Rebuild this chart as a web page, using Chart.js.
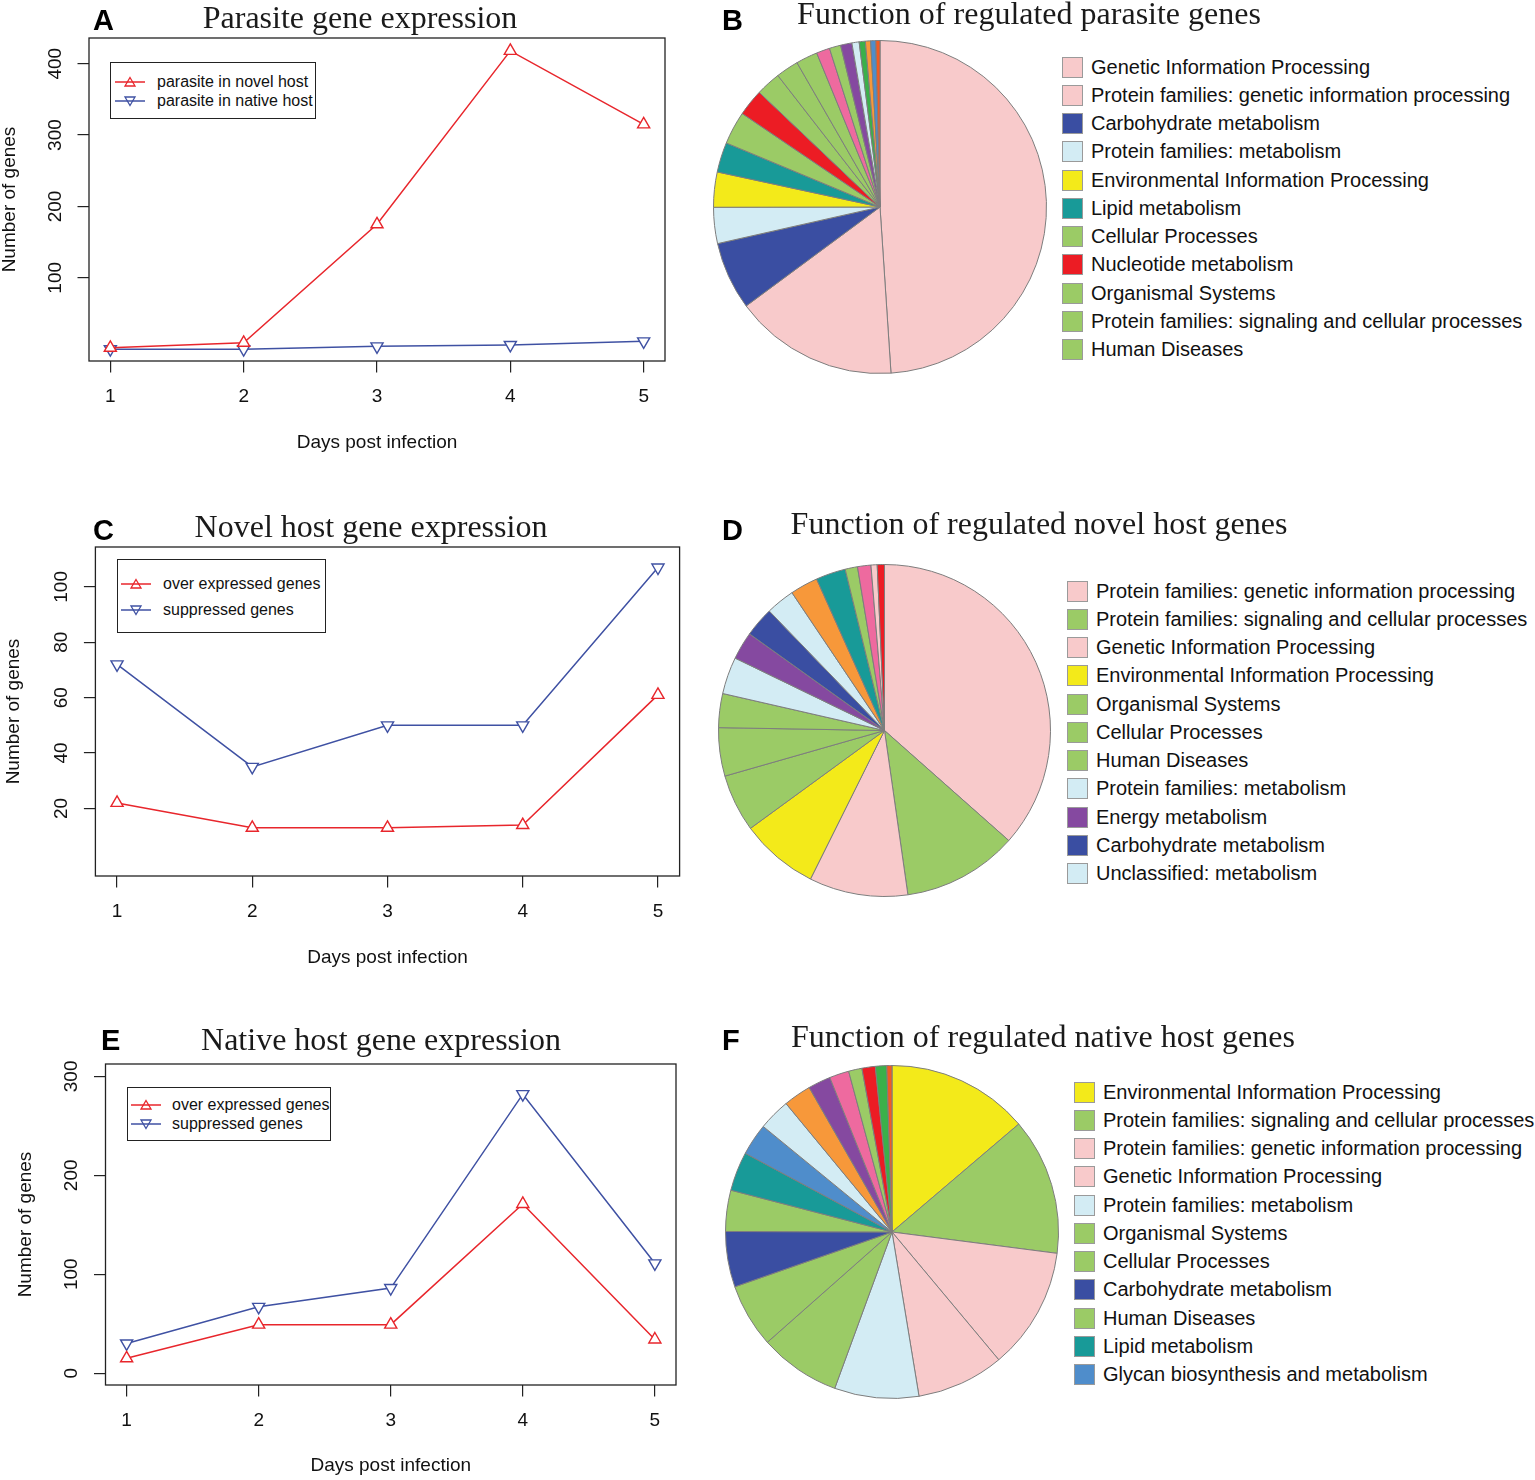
<!DOCTYPE html>
<html><head><meta charset="utf-8">
<script src="https://cdn.jsdelivr.net/npm/chart.js@4.4.1/dist/chart.umd.min.js"></script>
<style>
html,body{margin:0;padding:0;background:#fff;}
#page{position:relative;width:1535px;height:1480px;overflow:hidden;background:#fff;font-family:"Liberation Sans",Arial,sans-serif;color:#111;}
canvas{position:absolute;}
.ttl{position:absolute;width:700px;text-align:center;font-family:"Liberation Serif","Times New Roman",serif;font-size:32px;line-height:36px;color:#1a1a1a;white-space:nowrap;}
.let{position:absolute;font-weight:bold;font-size:29px;line-height:29px;color:#000;}
.lgbox{position:absolute;border:1.3px solid #222;box-sizing:border-box;background:#fff;}
.lgrow{position:absolute;display:flex;align-items:center;font-size:16px;white-space:nowrap;height:20px;color:#111;}
.lgrow svg{flex:none;}
.prow{position:absolute;display:flex;align-items:center;font-size:20px;white-space:nowrap;height:28px;color:#111;}
.sw{width:21px;height:21px;box-sizing:border-box;border:1px solid #9a9a9a;margin-right:8px;flex:none;}
</style></head><body><div id="page"></div>
<script>
// ---------------- data ----------------
const days = [1, 2, 3, 4, 5];
const dayTicks = [1, 2, 3, 4, 5];

const parasiteInNovelHost = [2, 9, 175, 418, 315];
const parasiteInNativeHost = [0, 0, 4, 6, 11];
const yTicksA = [100, 200, 300, 400];

const novelOverExpressed = [22, 13, 13, 14, 61];
const novelSuppressed = [72, 35, 50, 50, 107];
const yTicksC = [20, 40, 60, 80, 100];

const nativeOverExpressed = [15, 49, 49, 171, 34];
const nativeSuppressed = [30, 67, 86, 282, 111];
const yTicksE = [0, 100, 200, 300];

const pieBLabels = ["Genetic Information Processing", "Protein families: genetic information processing",
  "Carbohydrate metabolism", "Protein families: metabolism", "Environmental Information Processing",
  "Lipid metabolism", "Cellular Processes", "Nucleotide metabolism", "Organismal Systems",
  "Protein families: signaling and cellular processes", "Human Diseases",
  "", "", "", "", "", "", "", ""];
const pieBValues = [48.9, 15.9, 6.6, 3.5, 3.4, 2.9, 3.2, 2.6, 2.4, 2.2, 2.1, 1.3, 1.1, 1.1, 0.7, 0.6, 0.5, 0.5, 0.4];

const pieDLabels = ["Protein families: genetic information processing", "Protein families: signaling and cellular processes",
  "Genetic Information Processing", "Environmental Information Processing", "Organismal Systems",
  "Cellular Processes", "Human Diseases", "Protein families: metabolism", "Energy metabolism",
  "Carbohydrate metabolism", "Unclassified: metabolism",
  "", "", "", "", "", ""];
const pieDValues = [36.5, 11.2, 9.6, 7.6, 5.6, 4.7, 3.3, 3.6, 2.7, 2.9, 2.8, 2.7, 2.9, 1.2, 1.3, 0.6, 0.7];

const pieFLabels = ["Environmental Information Processing", "Protein families: signaling and cellular processes",
  "Protein families: genetic information processing", "Genetic Information Processing",
  "Protein families: metabolism", "Organismal Systems", "Cellular Processes", "Carbohydrate metabolism",
  "Human Diseases", "Lipid metabolism", "Glycan biosynthesis and metabolism",
  "", "", "", "", "", "", "", ""];
const pieFValues = [13.8, 13.3, 11.9, 8.5, 8.2, 7.9, 6.2, 5.4, 4.0, 3.8, 3.1, 3.1, 2.7, 2.2, 1.9, 1.3, 1.3, 1.1, 0.5];

const LEGEND_COUNT = 11;

// ---------------- styles ----------------
const C = {
  pink: '#F8CACB', blue: '#3A4EA2', lblue: '#D3ECF4', yellow: '#F3EA1A', teal: '#189A98',
  green: '#9BCB66', red: '#EC1C24', hpink: '#EE6A9F', purple: '#8549A0', bgreen: '#3BB04A',
  orange: '#F7983A', steel: '#4F8DCB', ored: '#F15A24'
};
const pieBColors = [C.pink, C.pink, C.blue, C.lblue, C.yellow, C.teal, C.green, C.red, C.green, C.green, C.green,
  C.hpink, C.green, C.purple, C.lblue, C.bgreen, C.orange, C.steel, C.ored];
const pieDColors = [C.pink, C.green, C.pink, C.yellow, C.green, C.green, C.green, C.lblue, C.purple, C.blue, C.lblue,
  C.orange, C.teal, C.green, C.hpink, C.pink, C.red];
const pieFColors = [C.yellow, C.green, C.pink, C.pink, C.lblue, C.green, C.green, C.blue, C.green, C.teal, C.steel,
  C.lblue, C.orange, C.purple, C.hpink, C.green, C.red, C.bgreen, C.ored];

const RED = '#E8262C', BLUE = '#3F51A3';
const FONT = '"Liberation Sans", Arial, sans-serif';
const page = document.getElementById('page');

function addDiv(cls, html, style) {
  const d = document.createElement('div');
  d.className = cls; d.innerHTML = html;
  Object.assign(d.style, style);
  page.appendChild(d);
  return d;
}
function title(text, cx, baseline) {
  addDiv('ttl', text, {left: (cx - 350) + 'px', top: (baseline - 28.8) + 'px'});
}
function letter(text, x, capTop) {
  addDiv('let', text, {left: x + 'px', top: (capTop - 3.7) + 'px'});
}

const boxPlugin = {
  id: 'box',
  beforeDatasetsDraw(chart) {
    const {ctx, chartArea: a} = chart;
    ctx.save();
    ctx.strokeStyle = '#222'; ctx.lineWidth = 1.3;
    ctx.strokeRect(a.left, a.top, a.right - a.left, a.bottom - a.top);
    ctx.restore();
  }
};

function triSvg(color, down) {
  const pts = down ? '15,11.5 20,3 10,3' : '15,2.5 20,11 10,11';
  return `<svg width="30" height="14" viewBox="0 0 30 14"><line x1="0" y1="7" x2="30" y2="7" stroke="${color}" stroke-width="1.5"/>` +
    `<polygon points="${pts}" fill="#fff" fill-opacity="0" stroke="${color}" stroke-width="1.3"/></svg>`;
}

function lineChart(cfg) {
  const cv = document.createElement('canvas');
  cv.width = cfg.w; cv.height = cfg.h;
  Object.assign(cv.style, {left: cfg.x + 'px', top: cfg.y + 'px', width: cfg.w + 'px', height: cfg.h + 'px'});
  page.appendChild(cv);
  const L = cfg.box.l - cfg.x, T = cfg.box.t - cfg.y, R = cfg.box.r - cfg.x, B = cfg.box.b - cfg.y;
  const gridOpts = {drawOnChartArea: false, drawTicks: true, tickLength: 11.5, color: '#222', lineWidth: 1.2};
  new Chart(cv, {
    type: 'line',
    data: {
      datasets: cfg.series.map(s => ({
        label: s.label,
        data: days.map((d, i) => ({x: d, y: s.values[i]})),
        borderColor: s.color, backgroundColor: '#fff', borderWidth: 1.5,
        pointStyle: 'triangle', pointRotation: s.down ? 180 : 0, pointRadius: 7, pointBorderWidth: 1.4,
        pointBorderColor: s.color, pointBackgroundColor: '#fff', tension: 0, fill: false
      }))
    },
    options: {
      responsive: false, animation: false,
      layout: {padding: {left: 0, top: T, right: cfg.w - R, bottom: 0}},
      plugins: {legend: {display: false}, tooltip: {enabled: false}, title: {display: false}},
      scales: {
        x: {
          type: 'linear', min: 0.84, max: 5.16, bounds: 'data',
          afterBuildTicks: s => { s.ticks = dayTicks.map(v => ({value: v})); },
          afterFit: s => { s.height = cfg.h - B; s.paddingLeft = 0; s.paddingRight = 0; },
          ticks: {font: {family: FONT, size: 19}, color: '#111', padding: 12.6, maxRotation: 0, autoSkip: false},
          grid: gridOpts, border: {display: false},
          title: {display: true, text: 'Days post infection', font: {family: FONT, size: 19, lineHeight: 1.2}, color: '#111',
            padding: {top: 0, bottom: cfg.xTitlePad}}
        },
        y: {
          type: 'linear', min: cfg.ymin, max: cfg.ymax, bounds: 'data',
          afterBuildTicks: s => { s.ticks = cfg.yticks.map(v => ({value: v})); },
          afterFit: s => { s.width = L; s.paddingTop = 0; s.paddingBottom = 0; },
          ticks: {font: {family: FONT, size: 19}, color: '#111', padding: 6, minRotation: 90, maxRotation: 90,
            crossAlign: 'center', autoSkip: false},
          grid: gridOpts, border: {display: false},
          title: {display: true, text: 'Number of genes', font: {family: FONT, size: 19, lineHeight: 1.05}, color: '#111',
            padding: {top: cfg.yTitlePad, bottom: 0}}
        }
      }
    },
    plugins: [boxPlugin]
  });
  // legend box
  const lg = cfg.legend;
  addDiv('lgbox', '', {left: lg.l + 'px', top: lg.t + 'px', width: (lg.r - lg.l) + 'px', height: (lg.b - lg.t) + 'px'});
  cfg.series.forEach((s, i) => {
    addDiv('lgrow', triSvg(s.color, s.down) + `<span style="margin-left:${lg.textX - lg.lineX - 30}px">${s.label}</span>`,
      {left: lg.lineX + 'px', top: (lg.rows[i] - 10) + 'px'});
  });
}

function pieChart(cfg) {
  const pad = 6, S = Math.round(2 * cfg.r + 1 + 2 * pad);
  const cv = document.createElement('canvas');
  cv.width = S; cv.height = S;
  const x = Math.round(cfg.cx - S / 2), y = Math.round(cfg.cy - S / 2);
  Object.assign(cv.style, {left: x + 'px', top: y + 'px', width: S + 'px', height: S + 'px'});
  page.appendChild(cv);
  new Chart(cv, {
    type: 'pie',
    data: {labels: cfg.labels, datasets: [{data: cfg.values, backgroundColor: cfg.colors, borderColor: '#7d7d7d', borderWidth: 1}]},
    options: {responsive: false, animation: false, layout: {padding: pad},
      plugins: {legend: {display: false}, tooltip: {enabled: false}}}
  });
  for (let i = 0; i < LEGEND_COUNT; i++) {
    addDiv('prow', `<div class="sw" style="background:${cfg.colors[i]}"></div><span>${cfg.labels[i]}</span>`,
      {left: cfg.legX + 'px', top: (cfg.legY + i * 28.27 - 14) + 'px'});
  }
}

// ---------------- panels ----------------
lineChart({
  x: 0, y: 0, w: 690, h: 470, box: {l: 89, t: 38, r: 665, b: 361},
  ymin: -16.5, ymax: 436, yticks: yTicksA, xTitlePad: 15.6, yTitlePad: 0,
  series: [
    {label: 'parasite in novel host', values: parasiteInNovelHost, color: RED, down: false},
    {label: 'parasite in native host', values: parasiteInNativeHost, color: BLUE, down: true}
  ],
  legend: {l: 110, t: 62, r: 316, b: 119, lineX: 115, textX: 157, rows: [82, 101]}
});
lineChart({
  x: 0, y: 480, w: 700, h: 500, box: {l: 95.4, t: 547, r: 679.6, b: 876},
  ymin: -4.4, ymax: 114.4, yticks: yTicksC, xTitlePad: 10.6, yTitlePad: 3.7,
  series: [
    {label: 'over expressed genes', values: novelOverExpressed, color: RED, down: false},
    {label: 'suppressed genes', values: novelSuppressed, color: BLUE, down: true}
  ],
  legend: {l: 117, t: 559, r: 326, b: 633, lineX: 121, textX: 163, rows: [584, 610]}
});
lineChart({
  x: 0, y: 1000, w: 700, h: 480, box: {l: 105.5, t: 1064, r: 676, b: 1385},
  ymin: -12, ymax: 312.5, yticks: yTicksE, xTitlePad: 2.6, yTitlePad: 15.8,
  series: [
    {label: 'over expressed genes', values: nativeOverExpressed, color: RED, down: false},
    {label: 'suppressed genes', values: nativeSuppressed, color: BLUE, down: true}
  ],
  legend: {l: 127, t: 1087, r: 331, b: 1141, lineX: 131, textX: 172, rows: [1105, 1124]}
});

pieChart({cx: 880, cy: 207.3, r: 166.5, labels: pieBLabels, values: pieBValues, colors: pieBColors, legX: 1062, legY: 67});
pieChart({cx: 884.2, cy: 730, r: 166, labels: pieDLabels, values: pieDValues, colors: pieDColors, legX: 1067, legY: 591});
pieChart({cx: 892.3, cy: 1232.2, r: 166.5, labels: pieFLabels, values: pieFValues, colors: pieFColors, legX: 1074, legY: 1092});

title('Parasite gene expression', 360, 28);
title('Function of regulated parasite genes', 1029, 24);
title('Novel host gene expression', 371, 537);
title('Function of regulated novel host genes', 1039, 534);
title('Native host gene expression', 381, 1050);
title('Function of regulated native host genes', 1043, 1047);

letter('A', 93, 10); letter('B', 722, 10);
letter('C', 93, 520); letter('D', 722, 520);
letter('E', 101, 1030); letter('F', 722, 1030);
</script></body></html>
